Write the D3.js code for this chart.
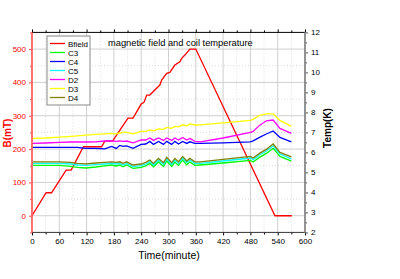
<!DOCTYPE html>
<html>
<head>
<meta charset="utf-8">
<script src="https://cdn.jsdelivr.net/npm/d3@7"></script>
<style>
  body { margin: 0; background: #fff; }
  text { font-family: "Liberation Sans", Arial, sans-serif; }
</style>
</head>
<body>
<div id="chart"></div>
<script>
// magnetic field (left axis, mT)
var bTime = [0, 31, 43, 75, 86, 113, 153, 160, 177, 211, 222, 240, 246, 252, 259, 270, 281, 285, 296, 303, 314, 325, 329, 336, 347, 360, 534, 571];
var bField = [0, 69, 69, 137, 137, 207, 207, 224, 224, 293, 293, 335, 340, 362, 362, 377, 392, 407, 427, 430, 452, 462, 472, 482, 500, 500, 0, 0];

// coil temperatures (right axis, K)
var tTime = [0, 30, 60, 85, 100, 118, 140, 160, 175, 185, 193, 200, 208, 222, 240, 250, 259, 267, 278, 289, 296, 307, 314, 322, 331, 340, 347, 358, 370, 420, 480, 486, 500, 515, 530, 545, 570];
var c3 = [5.35, 5.35, 5.35, 5.3, 5.25, 5.22, 5.27, 5.33, 5.37, 5.32, 5.37, 5.28, 5.37, 5.2, 5.25, 5.33, 5.45, 5.28, 5.52, 5.3, 5.57, 5.3, 5.52, 5.35, 5.62, 5.38, 5.52, 5.35, 5.37, 5.47, 5.6, 5.52, 5.75, 5.95, 6.2, 5.8, 5.56];
var c4 = [6.25, 6.25, 6.25, 6.25, 6.25, 6.2, 6.2, 6.18, 6.3, 6.2, 6.35, 6.3, 6.33, 6.2, 6.4, 6.42, 6.55, 6.4, 6.55, 6.4, 6.55, 6.4, 6.55, 6.42, 6.55, 6.45, 6.53, 6.45, 6.45, 6.48, 6.53, 6.58, 6.75, 6.92, 7.07, 6.75, 6.53];
var c5 = [5.45, 5.45, 5.45, 5.42, 5.37, 5.35, 5.39, 5.42, 5.45, 5.42, 5.45, 5.37, 5.45, 5.29, 5.34, 5.42, 5.54, 5.37, 5.62, 5.4, 5.67, 5.4, 5.62, 5.45, 5.72, 5.49, 5.62, 5.45, 5.45, 5.57, 5.72, 5.64, 5.87, 6.07, 6.33, 5.92, 5.68];
var d2 = [6.45, 6.47, 6.5, 6.52, 6.53, 6.52, 6.53, 6.57, 6.58, 6.55, 6.58, 6.55, 6.57, 6.48, 6.62, 6.62, 6.72, 6.6, 6.72, 6.6, 6.72, 6.6, 6.72, 6.62, 6.75, 6.62, 6.7, 6.55, 6.53, 6.72, 7.0, 7.05, 7.35, 7.58, 7.62, 7.2, 6.95];
var d3v = [6.7, 6.72, 6.76, 6.8, 6.83, 6.86, 6.9, 6.93, 6.95, 6.93, 6.97, 7.0, 7.0, 6.93, 7.05, 7.05, 7.12, 7.08, 7.18, 7.15, 7.25, 7.2, 7.3, 7.28, 7.38, 7.33, 7.42, 7.37, 7.38, 7.48, 7.6, 7.65, 7.85, 7.93, 7.93, 7.6, 7.3];
var d4 = [5.53, 5.53, 5.53, 5.5, 5.45, 5.43, 5.47, 5.5, 5.53, 5.5, 5.53, 5.45, 5.53, 5.37, 5.42, 5.5, 5.62, 5.45, 5.7, 5.48, 5.75, 5.48, 5.7, 5.53, 5.8, 5.57, 5.7, 5.53, 5.53, 5.65, 5.8, 5.72, 5.95, 6.15, 6.42, 6.0, 5.78];

var xTicks = [0, 60, 120, 180, 240, 300, 360, 420, 480, 540, 600];
var xMinor = [30, 90, 150, 210, 270, 330, 390, 450, 510, 570];
var bTicks = [0, 100, 200, 300, 400, 500];
var bMinor = [-50, 50, 150, 250, 350, 450, 550];
var tTicks = [2, 3, 4, 5, 6, 7, 8, 9, 10, 11, 12];
var tMinor = [2.5, 3.5, 4.5, 5.5, 6.5, 7.5, 8.5, 9.5, 10.5, 11.5];

var names = ["Bfield", "C3", "C4", "C5", "D2", "D3", "D4"];
var colors = ["#ff0000", "#00ff00", "#0000ff", "#00ffff", "#ff00ff", "#ffff00", "#808000"];
var tempSeries = [c3, c4, c5, d2, d3v, d4];

var W = 400, H = 279;
var x = d3.scaleLinear().domain([0, 600]).range([32, 305]);
var yB = d3.scaleLinear().domain([-50, 550]).range([232.4, 32.4]);
var yT = d3.scaleLinear().domain([2, 12]).range([232.4, 32.4]);

var svg = d3.select("#chart").append("svg")
  .attr("width", W).attr("height", H);

// grid
var grid = svg.append("g");
grid.selectAll(".vmaj").data(xTicks.slice(1, -1)).enter().append("line")
  .attr("x1", d => x(d)).attr("x2", d => x(d))
  .attr("y1", yB(550)).attr("y2", yB(-50))
  .attr("stroke", "#cfcfcf").attr("stroke-width", 1);
grid.selectAll(".vmin").data(xMinor).enter().append("line")
  .attr("x1", d => x(d)).attr("x2", d => x(d))
  .attr("y1", yB(550)).attr("y2", yB(-50))
  .attr("stroke", "#dcdcdc").attr("stroke-dasharray", "1,2");
grid.selectAll(".hmaj").data(bTicks).enter().append("line")
  .attr("x1", x(0)).attr("x2", x(600))
  .attr("y1", d => yB(d)).attr("y2", d => yB(d))
  .attr("stroke", "#cfcfcf").attr("stroke-width", 1);
grid.selectAll(".hmin").data(bMinor.slice(1, -1)).enter().append("line")
  .attr("x1", x(0)).attr("x2", x(600))
  .attr("y1", d => yB(d)).attr("y2", d => yB(d))
  .attr("stroke", "#dcdcdc").attr("stroke-dasharray", "1,2");

// lines
var bLine = d3.line().x((d, i) => x(bTime[i])).y(d => yB(d));
var tLine = d3.line().x((d, i) => x(tTime[i])).y(d => yT(d));

svg.append("path").datum(bField)
  .attr("d", bLine).attr("fill", "none")
  .attr("stroke", colors[0]).attr("stroke-width", 1.3);
tempSeries.forEach(function(s, k) {
  svg.append("path").datum(s)
    .attr("d", tLine).attr("fill", "none")
    .attr("stroke", colors[k + 1]).attr("stroke-width", 1.3);
});

// axes
function styleAxis(g, col, fcol) {
  g.selectAll("path.domain").remove();
  g.selectAll("line").attr("stroke", col);
  g.selectAll("text").attr("fill", fcol).style("font-size", "8px")
    .style("font-family", "'Liberation Sans', Arial, sans-serif");
}

var gx = svg.append("g").attr("transform", "translate(0," + yB(-50) + ")")
  .call(d3.axisBottom(x).tickValues(xTicks).tickSize(3).tickPadding(3));
styleAxis(gx, "#000", "#000");
var gx2 = svg.append("g").attr("transform", "translate(0," + yB(-50) + ")")
  .call(d3.axisBottom(x).tickValues(xMinor).tickSize(2).tickFormat(""));
styleAxis(gx2, "#000", "#000");
var gtop = svg.append("g").attr("transform", "translate(0," + yB(550) + ")")
  .call(d3.axisTop(x).tickValues(xTicks).tickSize(3).tickFormat(""));
styleAxis(gtop, "#000", "#000");
var gtop2 = svg.append("g").attr("transform", "translate(0," + yB(550) + ")")
  .call(d3.axisTop(x).tickValues(xMinor).tickSize(2).tickFormat(""));
styleAxis(gtop2, "#000", "#000");

var gl = svg.append("g").attr("transform", "translate(" + x(0) + ",0)")
  .call(d3.axisLeft(yB).tickValues(bTicks).tickSize(3).tickPadding(3));
styleAxis(gl, "#ff5050", "#ff0000");
var gl2 = svg.append("g").attr("transform", "translate(" + x(0) + ",0)")
  .call(d3.axisLeft(yB).tickValues(bMinor).tickSize(2).tickFormat(""));
styleAxis(gl2, "#ff5050", "#ff0000");

var gr = svg.append("g").attr("transform", "translate(" + x(600) + ",0)")
  .call(d3.axisRight(yT).tickValues(tTicks).tickSize(3).tickPadding(3));
styleAxis(gr, "#555", "#000");
var gr2 = svg.append("g").attr("transform", "translate(" + x(600) + ",0)")
  .call(d3.axisRight(yT).tickValues(tMinor).tickSize(2).tickFormat(""));
styleAxis(gr2, "#555", "#000");

// frame lines
svg.append("line").attr("x1", x(0)).attr("x2", x(600))
  .attr("y1", yB(550)).attr("y2", yB(550)).attr("stroke", "#000").attr("stroke-width", 1);
svg.append("line").attr("x1", x(0)).attr("x2", x(600))
  .attr("y1", yB(-50)).attr("y2", yB(-50)).attr("stroke", "#333").attr("stroke-width", 1);
svg.append("line").attr("x1", x(0)).attr("x2", x(0))
  .attr("y1", yB(550)).attr("y2", yB(-50)).attr("stroke", "#ff6060").attr("stroke-width", 1.8);
svg.append("line").attr("x1", x(600)).attr("x2", x(600))
  .attr("y1", yB(550)).attr("y2", yB(-50)).attr("stroke", "#888").attr("stroke-width", 1.8);

// title and labels
svg.append("text").text("magnetic field and coil temperature")
  .attr("x", 108).attr("y", 45.5).style("font-size", "9.3px").attr("fill", "#000");
svg.append("text").text("Time(minute)")
  .attr("x", 169).attr("y", 259).attr("text-anchor", "middle")
  .style("font-size", "10.5px").attr("fill", "#000");
svg.append("text").text("B(mT)")
  .attr("transform", "translate(11,133) rotate(-90)").attr("text-anchor", "middle")
  .style("font-size", "10px").style("font-weight", "bold").attr("fill", "#ff0000");
svg.append("text").text("Temp(K)")
  .attr("transform", "translate(331,128) rotate(-90)").attr("text-anchor", "middle")
  .style("font-size", "10px").style("font-weight", "bold").attr("fill", "#000");

// legend
var lg = svg.append("g");
lg.append("rect").attr("x", 47).attr("y", 36).attr("width", 43).attr("height", 69)
  .attr("fill", "#fff").attr("stroke", "#888").attr("stroke-width", 1);
names.forEach(function(n, i) {
  var yy = 43.5 + i * 9;
  lg.append("line").attr("x1", 50).attr("x2", 65).attr("y1", yy).attr("y2", yy)
    .attr("stroke", colors[i]).attr("stroke-width", 1.3);
  lg.append("text").text(n).attr("x", 68).attr("y", yy + 3)
    .style("font-size", "8px").attr("fill", "#000");
});
</script>
</body>
</html>
